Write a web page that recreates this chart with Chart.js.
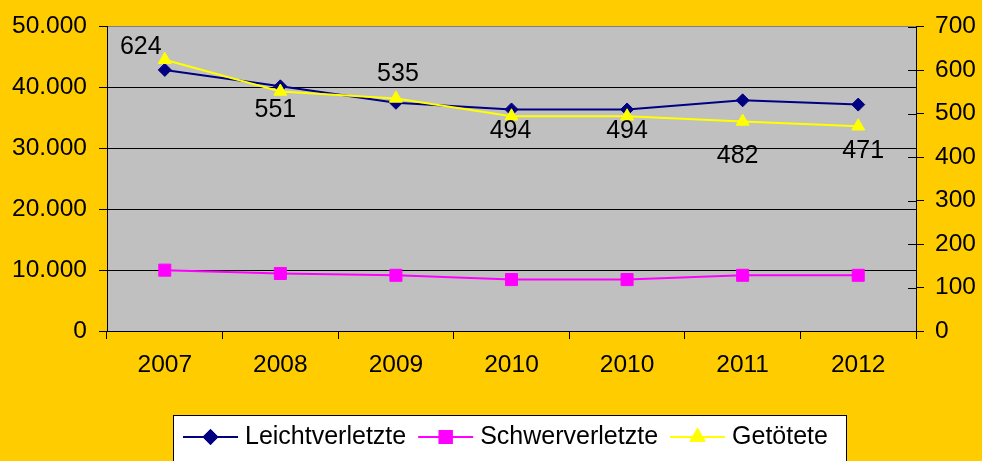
<!DOCTYPE html>
<html lang="de">
<head>
<meta charset="utf-8">
<title>Verunglückte 2007–2012</title>
<script src="https://cdn.jsdelivr.net/npm/chart.js@4.4.1/dist/chart.umd.min.js"></script>
<style>
  html, body { margin: 0; padding: 0; background: #FFCC00; }
</style>
</head>
<body>
<canvas id="unfallChart" width="982" height="461"></canvas>
<script>
// Daten
const jahre = ['2007', '2008', '2009', '2010', '2010', '2011', '2012'];
const leichtverletzte = [42900, 40200, 37500, 36400, 36400, 37900, 37200];
const schwerverletzte = [10000, 9450, 9150, 8450, 8450, 9150, 9150];
const getoetete = [624, 551, 535, 494, 494, 482, 471];
const achseLinks = [0, 10000, 20000, 30000, 40000, 50000];
const achseRechts = [0, 100, 200, 300, 400, 500, 600, 700];

const schrift = '"Liberation Sans", Arial, sans-serif';
Chart.defaults.font.family = schrift;
Chart.defaults.color = '#000';

// 50000 -> "50.000"
const tausender = v => String(v).replace(/\B(?=(\d{3})+(?!\d))/g, '.');

// Hintergrund orange, Zeichenfläche grau
const hintergrund = {
  id: 'hintergrund',
  beforeDraw(chart) {
    const { ctx, chartArea: a } = chart;
    ctx.save();
    ctx.fillStyle = '#FFCC00';
    ctx.fillRect(0, 0, chart.width, chart.height);
    ctx.fillStyle = '#C0C0C0';
    ctx.fillRect(a.left, a.top, a.right - a.left, a.bottom - a.top);
    ctx.restore();
  }
};

// Teilstriche der rechten Achse auch nach innen
const innenStriche = {
  id: 'innenStriche',
  afterDraw(chart) {
    const s = chart.scales.y1;
    const ctx = chart.ctx;
    ctx.save();
    ctx.strokeStyle = '#000';
    ctx.lineWidth = 1;
    s.ticks.forEach(t => {
      const y = Math.round(s.getPixelForValue(t.value)) + 0.5;
      ctx.beginPath();
      ctx.moveTo(s.left - 8, y);
      ctx.lineTo(s.left, y);
      ctx.stroke();
    });
    ctx.restore();
  }
};

// Beschriftung der Getöteten-Werte
const werteBeschriftung = {
  id: 'werteBeschriftung',
  afterDatasetsDraw(chart, args, opts) {
    const idx = chart.data.datasets.findIndex(d => d.label === 'Getötete');
    const meta = chart.getDatasetMeta(idx);
    const ctx = chart.ctx;
    ctx.save();
    ctx.font = '25px ' + schrift;
    ctx.fillStyle = '#000';
    ctx.textAlign = 'center';
    ctx.textBaseline = 'middle';
    meta.data.forEach((pt, i) => {
      const off = opts.versatz[i] || [0, 0];
      ctx.fillText(String(getoetete[i]), pt.x + off[0], pt.y + off[1]);
    });
    ctx.restore();
  }
};

// Legende als weißer Kasten unten
const legendeKasten = {
  id: 'legendeKasten',
  afterDraw(chart, args, opts) {
    const ctx = chart.ctx;
    ctx.save();
    ctx.fillStyle = '#fff';
    ctx.fillRect(opts.x, opts.y, opts.w, opts.h);
    ctx.strokeStyle = '#000';
    ctx.lineWidth = 1;
    ctx.strokeRect(opts.x + 0.5, opts.y + 0.5, opts.w, opts.h);
    ctx.font = '25px ' + schrift;
    ctx.textBaseline = 'middle';
    ctx.textAlign = 'left';
    let x = opts.start;
    const y = opts.mitte;
    chart.data.datasets.forEach(ds => {
      ctx.strokeStyle = ds.borderColor;
      ctx.lineWidth = 2;
      ctx.beginPath();
      ctx.moveTo(x, y);
      ctx.lineTo(x + opts.linie, y);
      ctx.stroke();
      Chart.helpers.drawPoint(ctx, {
        pointStyle: ds.pointStyle,
        radius: ds.pointRadius,
        borderWidth: 1
      }, x + opts.linie / 2, y);
      ctx.fillStyle = ds.borderColor;
      ctx.strokeStyle = ds.borderColor;
      ctx.fill();
      ctx.stroke();
      ctx.fillStyle = '#000';
      x += opts.linie + opts.abstand;
      ctx.fillText(ds.label, x, y);
      x += ctx.measureText(ds.label).width + opts.luecke;
    });
    ctx.restore();
  }
};

const ctx = document.getElementById('unfallChart').getContext('2d');
new Chart(ctx, {
  type: 'line',
  data: {
    labels: jahre,
    datasets: [
      {
        label: 'Leichtverletzte',
        data: leichtverletzte,
        yAxisID: 'y',
        borderColor: '#000080',
        backgroundColor: '#000080',
        borderWidth: 2,
        pointStyle: 'rectRot',
        pointRadius: 6.5,
        pointBorderWidth: 1,
        tension: 0,
        order: 3
      },
      {
        label: 'Schwerverletzte',
        data: schwerverletzte,
        yAxisID: 'y',
        borderColor: '#FF00FF',
        backgroundColor: '#FF00FF',
        borderWidth: 2,
        pointStyle: 'rect',
        pointRadius: 8.5,
        pointBorderWidth: 1,
        tension: 0,
        order: 2
      },
      {
        label: 'Getötete',
        data: getoetete,
        yAxisID: 'y1',
        borderColor: '#FFFF00',
        backgroundColor: '#FFFF00',
        borderWidth: 2,
        pointStyle: 'triangle',
        pointRadius: 7.5,
        pointBorderWidth: 1,
        tension: 0,
        order: 1
      }
    ]
  },
  options: {
    responsive: false,
    animation: false,
    devicePixelRatio: 1,
    layout: { padding: { top: 23, left: 0, right: 0, bottom: 0 } },
    scales: {
      x: {
        offset: true,
        grid: { drawOnChartArea: false, offset: true, color: '#000', tickLength: 8 },
        border: { color: '#000' },
        ticks: { font: { size: 24.5 }, padding: 12, maxRotation: 0 },
        afterFit: s => { s.height = 130; }
      },
      y: {
        position: 'left',
        min: achseLinks[0],
        max: achseLinks[achseLinks.length - 1],
        afterBuildTicks: s => { s.ticks = achseLinks.map(v => ({ value: v })); },
        grid: {
          color: c => (c.tick && c.tick.value === achseLinks[achseLinks.length - 1]) ? '#808080' : '#000',
          tickColor: '#000',
          tickLength: 8
        },
        border: { color: '#000' },
        ticks: { font: { size: 24.5 }, padding: 12, callback: v => tausender(v) },
        afterFit: s => { s.width = 107; }
      },
      y1: {
        position: 'right',
        min: achseRechts[0],
        max: achseRechts[achseRechts.length - 1],
        afterBuildTicks: s => { s.ticks = achseRechts.map(v => ({ value: v })); },
        grid: { drawOnChartArea: false, color: '#000', tickLength: 8 },
        border: { color: '#000' },
        ticks: { font: { size: 24.5 }, padding: 11 },
        afterFit: s => { s.width = 66; }
      }
    },
    plugins: {
      legend: { display: false },
      tooltip: { enabled: false },
      werteBeschriftung: {
        versatz: [[-24, -13], [-5, 19], [2, -24], [-1, 15], [0, 15], [-5, 35], [5, 25]]
      },
      legendeKasten: { x: 173, y: 415, w: 673, h: 60, start: 183, mitte: 437, linie: 55, abstand: 7, luecke: 12 }
    }
  },
  plugins: [hintergrund, innenStriche, werteBeschriftung, legendeKasten]
});
</script>
</body>
</html>
